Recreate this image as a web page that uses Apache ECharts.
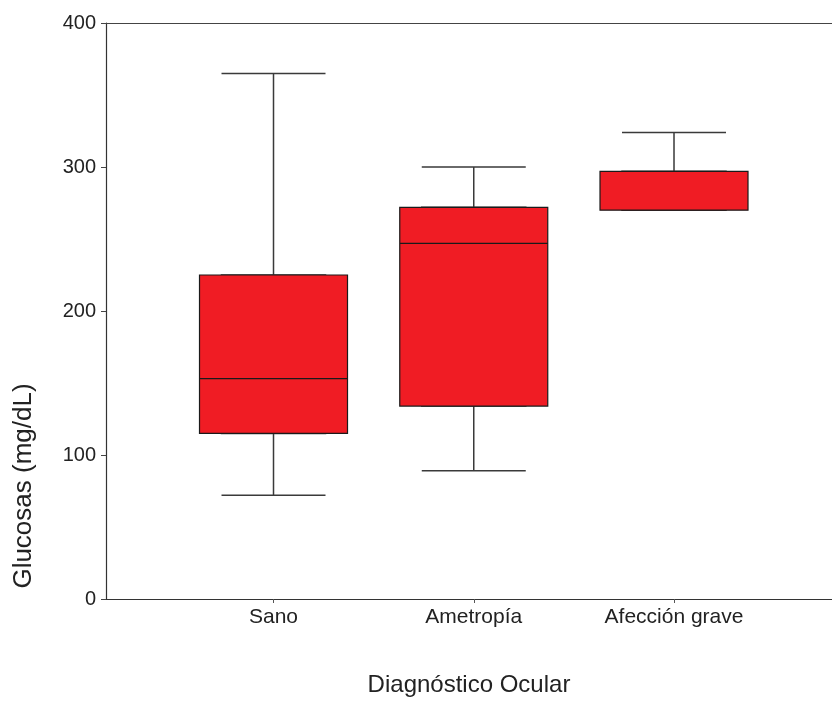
<!DOCTYPE html>
<html>
<head>
<meta charset="utf-8">
<script src="https://cdn.jsdelivr.net/npm/echarts@6/dist/echarts.min.js"></script>
<style>html,body{margin:0;padding:0;background:#fff}#c{width:832px;height:704px}</style>
</head>
<body>
<div id="c"></div>
<script>
const categories = ['Sano', 'Ametropía', 'Afección grave'];
const positions = [1, 2, 3];
const mins = [72, 89, 270];
const q1s = [115, 134, 270];
const medians = [153, 247, 270];
const q3s = [225, 272, 297];
const maxs = [365, 300, 324];

const FONT = 'Liberation Sans, Arial, sans-serif';
const X_MIN = 0.1635, X_MAX = 3.789;
const whiskerData = positions.map((p, i) => [p, mins[i], q1s[i], medians[i], q3s[i], maxs[i]]);
const boxData = positions.map((p, i) => [p, q1s[i], q1s[i], medians[i], q3s[i], q3s[i]]);

const chart = echarts.init(document.getElementById('c'), null, {renderer: 'canvas'});
chart.setOption({
  animation: false,
  backgroundColor: '#ffffff',
  grid: {left: 106, top: 23, bottom: 105, right: 0, show: false},
  xAxis: [{
    type: 'value',
    min: X_MIN,
    max: X_MAX,
    position: 'bottom',
    name: 'Diagnóstico Ocular',
    nameLocation: 'middle',
    nameGap: 74,
    nameTextStyle: {fontFamily: FONT, fontSize: 24, color: '#222'},
    splitLine: {show: false},
    axisLine: {show: true, lineStyle: {color: '#333', width: 1.2}},
    axisTick: {show: true, customValues: positions, length: 4, lineStyle: {color: '#555'}},
    axisLabel: {
      customValues: positions,
      margin: 8,
      fontFamily: FONT, fontSize: 21, color: '#222',
      formatter: v => categories[positions.indexOf(Math.round(v))] || ''
    }
  }, {
    type: 'value',
    min: X_MIN,
    max: X_MAX,
    position: 'top',
    splitLine: {show: false},
    axisLine: {show: true, lineStyle: {color: '#444', width: 1.2}},
    axisTick: {show: false},
    axisLabel: {show: false}
  }],
  yAxis: {
    type: 'value',
    min: 0, max: 400, interval: 100,
    name: 'Glucosas (mg/dL)',
    nameLocation: 'middle',
    nameGap: 69,
    nameRotate: 90,
    nameTextStyle: {fontFamily: FONT, fontSize: 26, color: '#222', padding: [0, 350, 0, 0]},
    splitLine: {show: false},
    axisLine: {show: true, lineStyle: {color: '#333', width: 1.2}},
    axisTick: {show: true, length: 5, lineStyle: {color: '#444'}},
    axisLabel: {margin: 10, fontFamily: FONT, fontSize: 20, color: '#222'}
  },
  series: [
    {
      type: 'boxplot',
      layout: 'horizontal',
      xAxisIndex: 0,
      data: whiskerData,
      boxWidth: [104, 104],
      z: 2,
      itemStyle: {color: 'transparent', borderColor: '#3a3a3a', borderWidth: 1.5},
      emphasis: {disabled: true}
    },
    {
      type: 'boxplot',
      layout: 'horizontal',
      xAxisIndex: 1,
      data: boxData,
      boxWidth: [148, 148],
      z: 3,
      itemStyle: {color: '#f01c24', borderColor: '#1a1a1a', borderWidth: 1.2},
      emphasis: {disabled: true}
    }
  ]
});
</script>
</body>
</html>
